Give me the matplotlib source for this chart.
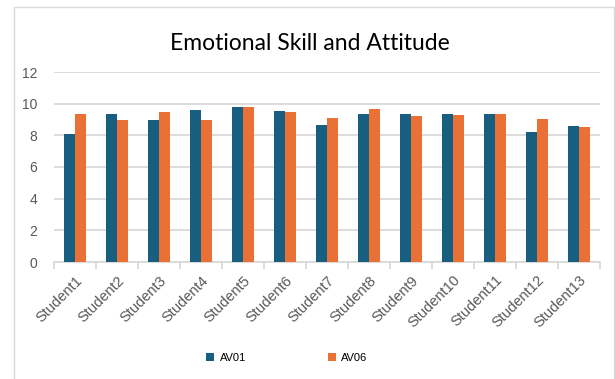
import matplotlib
matplotlib.use("Agg")
import matplotlib.pyplot as plt
import numpy as np
from matplotlib.patches import Rectangle

categories = ["Student1", "Student2", "Student3", "Student4", "Student5", "Student6", "Student7",
              "Student8", "Student9", "Student10", "Student11", "Student12", "Student13"]
av01 = [8.10, 9.37, 8.99, 9.58, 9.79, 9.53, 8.63, 9.32, 9.37, 9.37, 9.35, 8.21, 8.61]
av06 = [9.37, 8.95, 9.47, 8.95, 9.79, 9.47, 9.11, 9.64, 9.22, 9.28, 9.35, 9.01, 8.52]
yticks = [0, 2, 4, 6, 8, 10, 12]

blue = "#175E80"
orange = "#EA7135"
txt = "#595959"
grid = "#D9D9D9"

fig = plt.figure(figsize=(6.15, 3.79), dpi=100)
fig.patch.set_facecolor("white")
# chart frame
fig.add_artist(Rectangle((14/615, -0.1), 600/615, 1 - 7/379 + 0.1, transform=fig.transFigure,
                         fill=False, edgecolor="#D9D9D9", linewidth=1.0))

ax = fig.add_axes([54/615, 1 - 262/379, 546/615, 190/379])
x = np.arange(len(categories))
w = 0.27
ax.bar(x - w/2, av01, w, color=blue, label="AV01", zorder=3)
ax.bar(x + w/2, av06, w, color=orange, label="AV06", zorder=3)

ax.set_ylim(0, 12)
ax.set_xlim(-0.5, len(categories) - 0.5)
ax.set_yticks(yticks)
ax.set_yticklabels([str(v) for v in yticks], color=txt, fontsize=10, family="Liberation Sans")
ax.yaxis.grid(True, color=grid, linewidth=1.3, zorder=0)
ax.tick_params(axis="y", length=0, pad=12)

ax.set_xticks(x)
ax.set_xticklabels(categories, rotation=45, ha="right", va="top", rotation_mode="anchor",
                   color=txt, fontsize=10.5, family="Liberation Sans")
ax.tick_params(axis="x", length=0, pad=8)
ax.set_xticks(np.arange(-0.5, len(categories)), minor=True)
ax.tick_params(axis="x", which="minor", length=5, color=grid, width=1.3)

for s in ["top", "right", "left"]:
    ax.spines[s].set_visible(False)
ax.spines["bottom"].set_color(grid)
ax.spines["bottom"].set_linewidth(1.3)

fig.text(310/615, 1 - 43/379, "Emotional Skill and Attitude", ha="center", va="center",
         fontsize=16.5, family="Lato", color="#000000")

ax.legend(loc="center", bbox_to_anchor=(287/615, 1 - 358/379), bbox_transform=fig.transFigure,
          ncol=2, frameon=False, prop={"family": "Liberation Sans", "size": 8},
          handlelength=0.7, handleheight=0.7, columnspacing=7.4, handletextpad=0.5,
          labelcolor="#000000")

fig.savefig("out.png", dpi=100, facecolor="white")
